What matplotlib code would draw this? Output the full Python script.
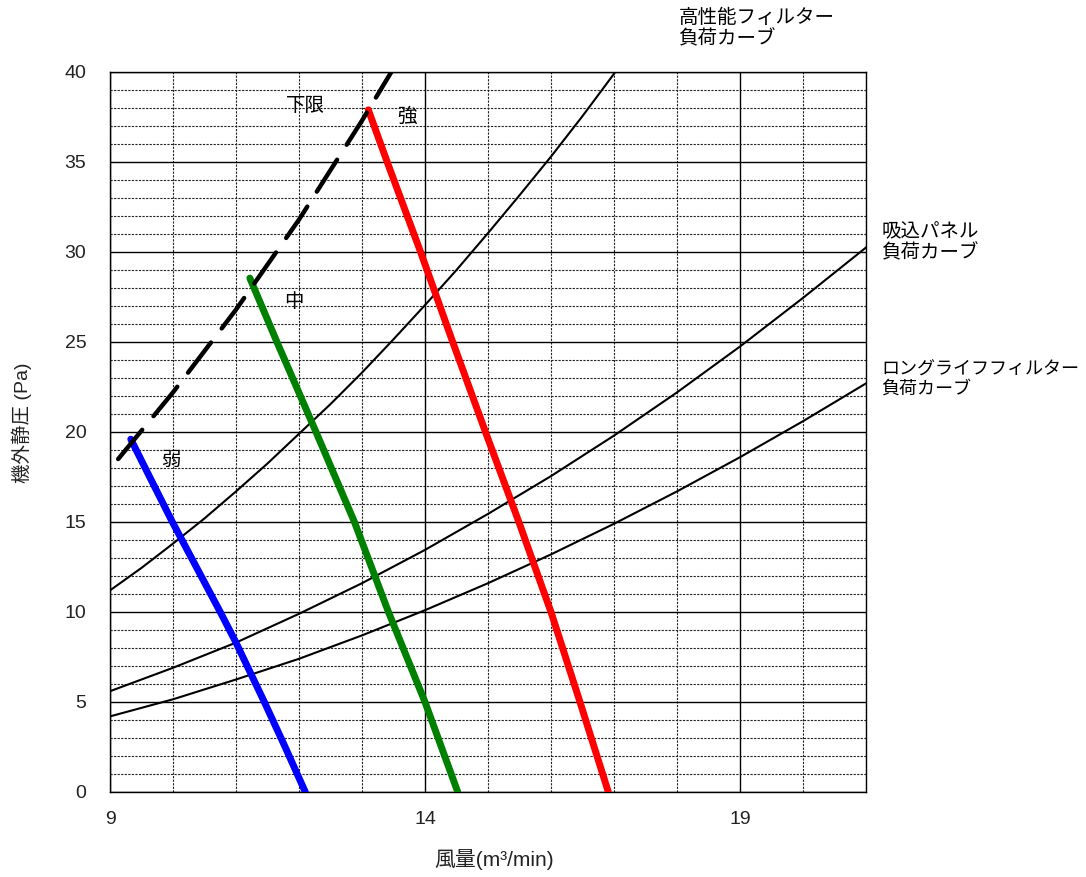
"""Fan static pressure vs air flow chart (弱/中/強 fan curves, filter load curves)."""
import matplotlib
matplotlib.use("Agg")
import matplotlib.pyplot as plt  # noqa: E402

plt.rcParams["font.family"] = ["Liberation Sans", "Noto Sans CJK JP"]

# fan curves (風量 m3/min, 機外静圧 Pa)
weak_q = [9.33, 9.63, 9.99, 10.37, 10.75, 11.00, 11.45, 11.78, 12.10]
weak_p = [19.6, 17.5, 15.0, 12.5, 10.0, 8.3, 5.0, 2.5, 0.0]
mid_q = [11.22, 11.65, 12.27, 12.88, 13.42, 14.00, 14.52]
mid_p = [28.55, 25.0, 20.0, 15.0, 10.0, 5.0, 0.0]
strong_q = [13.10, 13.40, 13.93, 14.44, 14.96, 15.49, 16.00, 16.46, 16.91]
strong_p = [37.9, 35.0, 30.0, 25.0, 20.0, 15.0, 10.0, 5.0, 0.0]

# lower limit (下限), dashed
limit_q = [9.13, 10, 11, 12, 13, 13.5]
limit_p = [18.5, 22.2, 26.8, 31.8, 37.3, 40.2]

# load curves
hepa_q = [9, 9.5, 10, 10.5, 11, 11.5, 12, 12.5, 13, 13.5, 14, 14.5, 15, 15.5, 16, 16.5, 17, 17.1]
hepa_p = [11.2, 12.45, 13.8, 15.2, 16.7, 18.25, 19.9, 21.55, 23.3, 25.15, 27.05, 29.0,
          31.05, 33.15, 35.3, 37.55, 39.9, 40.4]
panel_q = [9, 10, 11, 12, 13, 14, 15, 16, 17, 18, 19, 20, 21]
panel_p = [5.6, 6.9, 8.3, 9.9, 11.6, 13.45, 15.45, 17.55, 19.8, 22.2, 24.75, 27.45, 30.25]
longlife_q = [9, 10, 11, 12, 13, 14, 15, 16, 17, 18, 19, 20, 21]
longlife_p = [4.2, 5.15, 6.25, 7.4, 8.7, 10.1, 11.6, 13.2, 14.9, 16.7, 18.6, 20.6, 22.7]

fig = plt.figure(figsize=(10.86, 8.77), dpi=100)
ax = fig.add_axes([110 / 1086, 1 - 792 / 877, 756 / 1086, 720 / 877])

ax.set_xlim(9, 21)
ax.set_ylim(0, 40)
ax.set_xticks([9, 14, 19])
ax.set_xticks(range(9, 22), minor=True)
ax.set_yticks(range(0, 41, 5))
ax.set_yticks(range(0, 41), minor=True)
ax.grid(which="major", color="black", lw=1.0, ls="-")
ax.grid(which="minor", color="#222222", lw=0.8, ls=(0, (2, 1.2)))
ax.set_axisbelow(True)
ax.tick_params(which="both", length=0, labelsize=14, colors="#222222")
ax.tick_params(axis="x", pad=14)
ax.tick_params(axis="y", pad=17)
for s in ax.spines.values():
    s.set_color("black")
    s.set_linewidth(1.0)

# load curves (thin black)
for q, p in [(hepa_q, hepa_p), (panel_q, panel_p), (longlife_q, longlife_p)]:
    ax.plot(q, p, color="black", lw=1.5, zorder=3)

# fan curves
ax.plot(weak_q, weak_p, color="#0000ff", lw=5, zorder=4, solid_capstyle="round")
ax.plot(mid_q, mid_p, color="#008000", lw=5, zorder=4, solid_capstyle="round")
ax.plot(strong_q, strong_p, color="#ff0000", lw=5, zorder=4, solid_capstyle="round")
ax.plot(limit_q, limit_p, color="black", lw=3.2, ls=(0, (8.5, 4)), zorder=5,
        dash_capstyle="round")

lab = dict(fontsize=14, ha="center", va="center")
ax.text(9.97, 18.4, "弱", **lab)
ax.text(11.92, 27.2, "中", **lab)
ax.text(13.71, 37.5, "強", **lab)
ax.text(12.1, 38.1, "下限", **lab)

side = dict(ha="left", va="center", clip_on=False)
ax.text(18.02, 42.4, "高性能フィルター\n負荷カーブ", fontsize=14, **side)
ax.text(21.24, 30.5, "吸込パネル\n負荷カーブ", fontsize=14, **side)
ax.text(21.24, 22.9, "ロングライフフィルター\n負荷カーブ", fontsize=13, **side)

fig.text(494 / 1086, 1 - 860 / 877, "風量(m³/min)", fontsize=15, ha="center",
         va="center", color="#222222")
fig.text(22 / 1086, 1 - 423 / 877, "機外静圧 (Pa)", fontsize=14, ha="center",
         va="center", rotation=90, color="#222222")

fig.savefig("out.png", dpi=100)
